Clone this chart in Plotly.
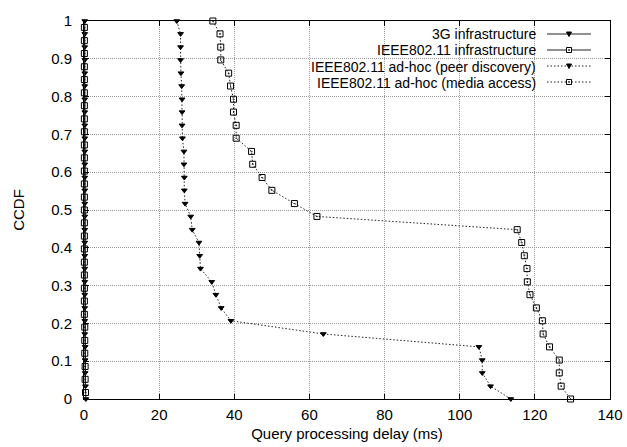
import plotly.graph_objects as go

# ---------------- data ----------------
series_names = [
    "3G infrastructure",
    "IEEE802.11 infrastructure",
    "IEEE802.11 ad-hoc (peer discovery)",
    "IEEE802.11 ad-hoc (media access)",
]

ccdf_30 = [1.0, 0.966, 0.931, 0.897, 0.862, 0.828, 0.793, 0.759, 0.724, 0.690,
           0.655, 0.621, 0.586, 0.552, 0.517, 0.483, 0.448, 0.414, 0.379, 0.345,
           0.310, 0.276, 0.241, 0.207, 0.172, 0.138, 0.103, 0.069, 0.034, 0.0]

infra_3g_delay = [0.2, 0.2, 0.2, 0.2, 0.2, 0.2, 0.2, 0.2, 0.2, 0.2,
                  0.2, 0.2, 0.2, 0.2, 0.2, 0.2, 0.2, 0.2, 0.2, 0.2,
                  0.2, 0.2, 0.2, 0.2, 0.2, 0.3, 0.3, 0.3, 0.4, 0.5]

ccdf_29 = [0.983, 0.948, 0.914, 0.879, 0.845, 0.810, 0.776, 0.741, 0.707, 0.672,
           0.638, 0.603, 0.569, 0.534, 0.500, 0.466, 0.431, 0.397, 0.362, 0.328,
           0.293, 0.259, 0.224, 0.190, 0.155, 0.121, 0.086, 0.052, 0.017]

infra_wifi_delay = [0.1, 0.1, 0.1, 0.1, 0.1, 0.1, 0.1, 0.1, 0.1, 0.1,
                    0.1, 0.1, 0.1, 0.1, 0.1, 0.1, 0.1, 0.1, 0.1, 0.1,
                    0.1, 0.1, 0.1, 0.2, 0.2, 0.2, 0.3, 0.3, 0.4]

peer_delay = [24.7, 25.7, 25.7, 25.7, 25.8, 26.0, 26.1, 26.1, 26.1, 26.2,
              26.6, 26.6, 26.7, 26.7, 26.9, 28.4, 28.8, 30.6, 30.8, 31.0,
              34.0, 35.1, 36.5, 39.1, 63.7, 105.1, 106.0, 106.0, 108.2, 113.6]

media_delay = [34.3, 36.2, 36.4, 36.4, 38.5, 39.0, 39.8, 39.8, 40.5, 40.5,
               44.6, 44.9, 47.4, 50.0, 56.0, 62.0, 115.3, 116.5, 117.2, 117.9,
               118.0, 118.7, 120.4, 122.0, 122.2, 123.9, 126.5, 126.5, 127.0, 129.5]

x_ticks = [0, 20, 40, 60, 80, 100, 120, 140]
y_ticks = [0, 0.1, 0.2, 0.3, 0.4, 0.5, 0.6, 0.7, 0.8, 0.9, 1]
y_tick_labels = ["0", "0.1", "0.2", "0.3", "0.4", "0.5", "0.6", "0.7", "0.8", "0.9", "1"]

# ---------------- styles ----------------
FONT = "Liberation Sans, Arial, Helvetica, sans-serif"
FS = 15
KEY_FS = 14
DOT = "1.5px,2px"
styles = [
    dict(dash="solid", symbol="triangle-down", size=5),
    dict(dash="solid", symbol="square-open-dot", size=6),
    dict(dash=DOT, symbol="triangle-down", size=5),
    dict(dash=DOT, symbol="square-open-dot", size=6),
]
data = [
    (infra_3g_delay, ccdf_30),
    (infra_wifi_delay, ccdf_29),
    (peer_delay, ccdf_30),
    (media_delay, ccdf_30),
]

fig = go.Figure()
for name, (xs, ys), st in zip(series_names, data, styles):
    fig.add_trace(go.Scatter(
        x=xs, y=ys, name=name, mode="lines+markers",
        line=dict(color="#222", width=1, dash=st["dash"]),
        marker=dict(symbol=st["symbol"], size=st["size"], color="black",
                    line=dict(color="black", width=1)),
        cliponaxis=False, showlegend=False,
    ))

# ---------------- layout geometry ----------------
W, H = 627, 447
L, R, T, B = 84, 17, 21, 48
pw, ph = W - L - R, H - T - B


def px_x(p):
    return (p - L) / pw


def px_y(p):
    return (H - B - p) / ph


shapes = []
annotations = []

# opaque key box (hides grid behind the key, as in gnuplot)
shapes.append(dict(type="rect", xref="paper", yref="paper", layer="between",
                   x0=px_x(287), x1=1, y0=px_y(91), y1=1,
                   fillcolor="white", line=dict(width=0)))

row_y = [34, 50, 66, 82]
for name, st, ry in zip(series_names, styles, row_y):
    yy = px_y(ry)
    annotations.append(dict(text=name, xref="paper", yref="paper",
                            x=px_x(538), y=px_y(ry + 0.5), xanchor="right", yanchor="middle",
                            showarrow=False, font=dict(family=FONT, size=KEY_FS, color="black")))
    shapes.append(dict(type="line", xref="paper", yref="paper",
                       x0=px_x(547), x1=px_x(591), y0=yy, y1=yy,
                       line=dict(color="#222", width=1, dash=st["dash"])))
    cx = 569
    if st["symbol"].startswith("triangle"):
        path = "M {} {} L {} {} L {} {} Z".format(
            px_x(cx - 2.5), yy + 2 / ph, px_x(cx + 2.5), yy + 2 / ph, px_x(cx), yy - 2.5 / ph)
        shapes.append(dict(type="path", xref="paper", yref="paper", path=path,
                           fillcolor="black", line=dict(color="black", width=1)))
    else:
        shapes.append(dict(type="rect", xref="paper", yref="paper",
                           x0=px_x(cx - 2.5), x1=px_x(cx + 2.5),
                           y0=yy - 2.5 / ph, y1=yy + 2.5 / ph,
                           fillcolor="white", line=dict(color="black", width=1)))
        shapes.append(dict(type="rect", xref="paper", yref="paper",
                           x0=px_x(cx - 0.5), x1=px_x(cx + 0.5),
                           y0=yy - 0.5 / ph, y1=yy + 0.5 / ph,
                           fillcolor="black", line=dict(color="black", width=0.5)))

axis_common = dict(
    showline=True, linecolor="black", linewidth=1, mirror="ticks",
    ticks="inside", ticklen=5, tickwidth=1, tickcolor="black",
    showgrid=True, gridcolor="#999", gridwidth=1, griddash="1px,1px",
    zeroline=False, tickfont=dict(family=FONT, size=FS, color="black"),
)

fig.update_layout(
    width=W, height=H,
    margin=dict(l=L, r=R, t=T, b=B, autoexpand=False),
    paper_bgcolor="white", plot_bgcolor="white",
    font=dict(family=FONT, size=FS, color="black"),
    shapes=shapes, annotations=annotations,
    xaxis=dict(range=[0, 140], tickvals=x_ticks, ticklabelstandoff=2,
               title=dict(text="Query processing delay (ms)", standoff=6,
                          font=dict(family=FONT, size=FS)),
               automargin=False, **axis_common),
    yaxis=dict(range=[0, 1], tickvals=y_ticks, ticktext=y_tick_labels, ticklabelstandoff=8,
               title=dict(text="CCDF", standoff=22, font=dict(family=FONT, size=FS)),
               automargin=False, **axis_common),
)

fig.write_html("out.html", config={"displayModeBar": False},
               post_script="document.body.style.margin='0px';document.body.style.overflow='hidden';")
